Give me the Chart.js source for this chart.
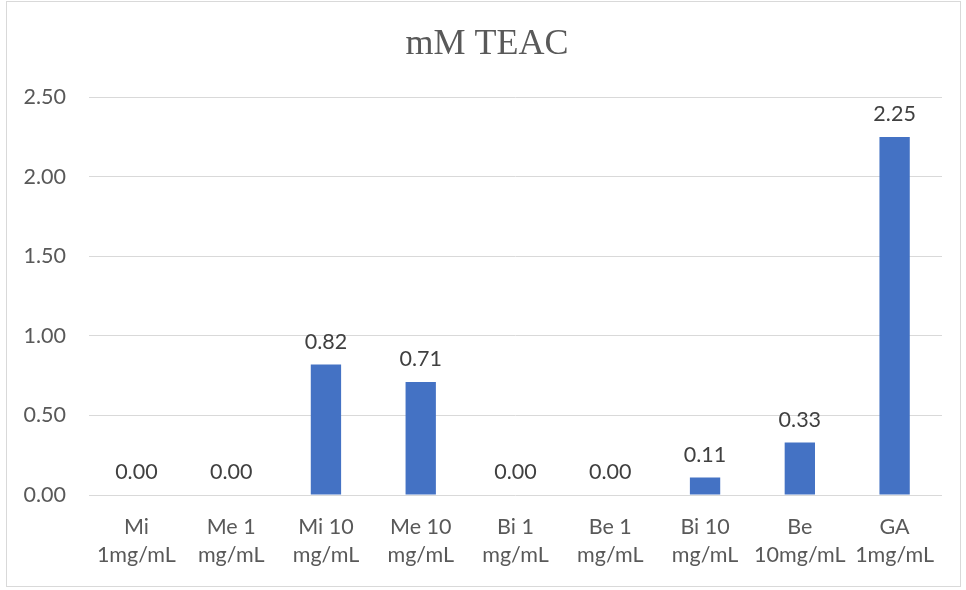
<!DOCTYPE html>
<html>
<head>
<meta charset="utf-8">
<script src="https://cdn.jsdelivr.net/npm/chart.js@4/dist/chart.umd.min.js"></script>
<style>
  html, body { margin: 0; padding: 0; background: #fff; }
  #wrap { width: 966px; height: 590px; position: relative; }
</style>
</head>
<body>
<div id="wrap"><canvas id="teac_chart"></canvas></div>
<script>
// data
const categories = [
  ["Mi", "1mg/mL"], ["Me 1", "mg/mL"], ["Mi 10", "mg/mL"], ["Me 10", "mg/mL"],
  ["Bi 1", "mg/mL"], ["Be 1", "mg/mL"], ["Bi 10", "mg/mL"], ["Be", "10mg/mL"], ["GA", "1mg/mL"]
];
const teacValues = [0.00, 0.00, 0.82, 0.71, 0.00, 0.00, 0.11, 0.33, 2.25];
const yTicks = [0, 0.5, 1, 1.5, 2, 2.5];

const labelFont = "Lato, 'Open Sans', sans-serif";

// value labels above every bar
const barValues = {
  id: "barValues",
  afterDatasetsDraw(chart) {
    const ctx = chart.ctx;
    const meta = chart.getDatasetMeta(0);
    ctx.save();
    ctx.font = "21.5px " + labelFont;
    ctx.fillStyle = "#404040";
    ctx.textAlign = "center";
    ctx.textBaseline = "bottom";
    meta.data.forEach(function(bar, i) {
      ctx.fillText(teacValues[i].toFixed(2), bar.x, bar.y - 12);
    });
    ctx.restore();
  }
};

// thin frame around the whole chart
const frame = {
  id: "frame",
  beforeDraw(chart) {
    const ctx = chart.ctx;
    ctx.save();
    ctx.strokeStyle = "#d9d9d9";
    ctx.lineWidth = 1;
    ctx.strokeRect(6.5, 1.5, 954, 585);
    ctx.restore();
  }
};

var chart = new Chart("teac_chart", {
  type: "bar",
  data: {
    labels: categories,
    datasets: [{
      data: teacValues,
      backgroundColor: "#4472C4",
      barPercentage: 0.32,
      categoryPercentage: 1.0
    }]
  },
  options: {
    responsive: true,
    maintainAspectRatio: false,
    animation: false,
    layout: { padding: { left: 8, right: 0, top: 0, bottom: 0 } },
    plugins: {
      legend: { display: false },
      tooltip: { enabled: false },
      title: {
        display: true,
        text: "mM TEAC",
        color: "#595959",
        font: { family: "'Liberation Serif', 'Times New Roman', serif", size: 36, weight: "normal" },
        padding: { top: 23, bottom: 31 }
      }
    },
    scales: {
      x: {
        grid: { display: false, drawTicks: false },
        border: { display: false },
        ticks: {
          color: "#595959",
          font: { family: labelFont, size: 21.5, lineHeight: 1.3 },
          padding: 18,
          maxRotation: 0,
          autoSkip: false
        },
        afterFit(scale) { scale.height = 95; }
      },
      y: {
        min: 0,
        max: 2.5,
        grid: { color: "#d9d9d9", drawTicks: false },
        border: { display: false },
        afterBuildTicks(scale) { scale.ticks = yTicks.map(v => ({ value: v })); },
        ticks: {
          color: "#595959",
          font: { family: labelFont, size: 21.5 },
          padding: 23,
          callback: v => v.toFixed(2)
        },
        afterFit(scale) { scale.width = 81; }
      },
      // empty right margin, keeps the title centred like the original
      yRight: {
        position: "right",
        min: 0,
        max: 2.5,
        grid: { display: false, drawTicks: false },
        border: { display: false },
        ticks: { display: false },
        afterFit(scale) { scale.width = 24; }
      }
    }
  },
  plugins: [frame, barValues]
});
</script>
</body>
</html>
